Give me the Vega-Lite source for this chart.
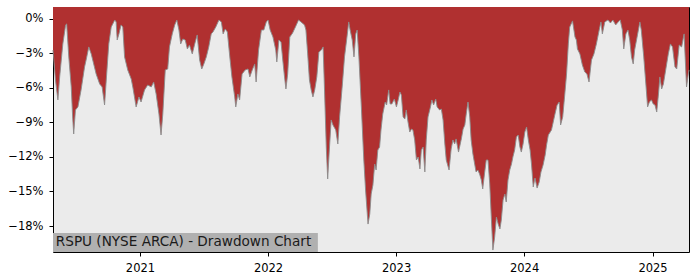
{
  "$schema": "https://vega.github.io/schema/vega-lite/v6.json",
  "width": 636,
  "height": 245,
  "autosize": {"type": "none"},
  "padding": {"left": 53, "top": 7, "right": 11, "bottom": 28},
  "background": "#ffffff",
  "config": {
    "view": {"stroke": "#000000", "strokeWidth": 1, "fill": "#ebebeb"},
    "font": "DejaVu Sans",
    "axis": {
      "domain": false,
      "grid": false,
      "labelFont": "DejaVu Sans",
      "labelFontSize": 11.5,
      "labelColor": "#000000",
      "tickColor": "#000000",
      "tickSize": 4,
      "labelPadding": 6,
      "title": null
    }
  },
  "datasets": {
    "dd": [
      {"date": "2020-04-28", "dd": -0.0270},
      {"date": "2020-05-05", "dd": -0.0530},
      {"date": "2020-05-12", "dd": -0.0704},
      {"date": "2020-05-17", "dd": -0.0504},
      {"date": "2020-05-26", "dd": -0.0217},
      {"date": "2020-06-03", "dd": -0.0052},
      {"date": "2020-06-06", "dd": -0.0043},
      {"date": "2020-06-12", "dd": -0.0330},
      {"date": "2020-06-19", "dd": -0.0591},
      {"date": "2020-06-23", "dd": -0.0852},
      {"date": "2020-06-26", "dd": -0.1000},
      {"date": "2020-07-01", "dd": -0.0791},
      {"date": "2020-07-08", "dd": -0.0765},
      {"date": "2020-07-17", "dd": -0.0617},
      {"date": "2020-07-27", "dd": -0.0417},
      {"date": "2020-08-01", "dd": -0.0348},
      {"date": "2020-08-08", "dd": -0.0243},
      {"date": "2020-08-15", "dd": -0.0304},
      {"date": "2020-08-22", "dd": -0.0391},
      {"date": "2020-08-29", "dd": -0.0478},
      {"date": "2020-09-08", "dd": -0.0565},
      {"date": "2020-09-15", "dd": -0.0591},
      {"date": "2020-09-22", "dd": -0.0748},
      {"date": "2020-09-28", "dd": -0.0478},
      {"date": "2020-10-04", "dd": -0.0217},
      {"date": "2020-10-11", "dd": -0.0070},
      {"date": "2020-10-21", "dd": -0.0009},
      {"date": "2020-10-25", "dd": -0.0026},
      {"date": "2020-10-28", "dd": -0.0183},
      {"date": "2020-11-02", "dd": -0.0130},
      {"date": "2020-11-08", "dd": -0.0052},
      {"date": "2020-11-13", "dd": -0.0070},
      {"date": "2020-11-18", "dd": -0.0330},
      {"date": "2020-11-27", "dd": -0.0443},
      {"date": "2020-12-07", "dd": -0.0522},
      {"date": "2020-12-12", "dd": -0.0600},
      {"date": "2020-12-21", "dd": -0.0765},
      {"date": "2020-12-29", "dd": -0.0678},
      {"date": "2021-01-04", "dd": -0.0722},
      {"date": "2021-01-14", "dd": -0.0617},
      {"date": "2021-01-23", "dd": -0.0574},
      {"date": "2021-02-02", "dd": -0.0591},
      {"date": "2021-02-09", "dd": -0.0548},
      {"date": "2021-02-16", "dd": -0.0652},
      {"date": "2021-02-24", "dd": -0.0826},
      {"date": "2021-03-02", "dd": -0.1009},
      {"date": "2021-03-07", "dd": -0.0826},
      {"date": "2021-03-14", "dd": -0.0443},
      {"date": "2021-03-21", "dd": -0.0435},
      {"date": "2021-03-26", "dd": -0.0243},
      {"date": "2021-04-03", "dd": -0.0130},
      {"date": "2021-04-10", "dd": -0.0052},
      {"date": "2021-04-16", "dd": -0.0009},
      {"date": "2021-04-22", "dd": -0.0096},
      {"date": "2021-04-27", "dd": -0.0217},
      {"date": "2021-05-03", "dd": -0.0174},
      {"date": "2021-05-10", "dd": -0.0183},
      {"date": "2021-05-16", "dd": -0.0261},
      {"date": "2021-05-22", "dd": -0.0226},
      {"date": "2021-05-30", "dd": -0.0304},
      {"date": "2021-06-06", "dd": -0.0217},
      {"date": "2021-06-13", "dd": -0.0139},
      {"date": "2021-06-20", "dd": -0.0357},
      {"date": "2021-06-26", "dd": -0.0435},
      {"date": "2021-07-02", "dd": -0.0391},
      {"date": "2021-07-09", "dd": -0.0330},
      {"date": "2021-07-16", "dd": -0.0243},
      {"date": "2021-07-23", "dd": -0.0130},
      {"date": "2021-07-28", "dd": -0.0113},
      {"date": "2021-08-05", "dd": -0.0070},
      {"date": "2021-08-14", "dd": -0.0009},
      {"date": "2021-08-21", "dd": -0.0026},
      {"date": "2021-08-26", "dd": -0.0130},
      {"date": "2021-09-01", "dd": -0.0087},
      {"date": "2021-09-07", "dd": -0.0113},
      {"date": "2021-09-14", "dd": -0.0330},
      {"date": "2021-09-20", "dd": -0.0504},
      {"date": "2021-09-28", "dd": -0.0678},
      {"date": "2021-10-01", "dd": -0.0765},
      {"date": "2021-10-07", "dd": -0.0652},
      {"date": "2021-10-12", "dd": -0.0704},
      {"date": "2021-10-19", "dd": -0.0478},
      {"date": "2021-10-28", "dd": -0.0443},
      {"date": "2021-11-05", "dd": -0.0435},
      {"date": "2021-11-10", "dd": -0.0504},
      {"date": "2021-11-17", "dd": -0.0443},
      {"date": "2021-11-24", "dd": -0.0391},
      {"date": "2021-11-28", "dd": -0.0548},
      {"date": "2021-12-05", "dd": -0.0270},
      {"date": "2021-12-13", "dd": -0.0096},
      {"date": "2021-12-20", "dd": -0.0096},
      {"date": "2021-12-27", "dd": -0.0026},
      {"date": "2022-01-01", "dd": -0.0009},
      {"date": "2022-01-07", "dd": -0.0096},
      {"date": "2022-01-15", "dd": -0.0157},
      {"date": "2022-01-23", "dd": -0.0270},
      {"date": "2022-01-26", "dd": -0.0374},
      {"date": "2022-02-01", "dd": -0.0183},
      {"date": "2022-02-07", "dd": -0.0200},
      {"date": "2022-02-12", "dd": -0.0357},
      {"date": "2022-02-17", "dd": -0.0504},
      {"date": "2022-02-21", "dd": -0.0609},
      {"date": "2022-02-26", "dd": -0.0478},
      {"date": "2022-03-04", "dd": -0.0157},
      {"date": "2022-03-12", "dd": -0.0122},
      {"date": "2022-03-20", "dd": -0.0070},
      {"date": "2022-03-29", "dd": -0.0009},
      {"date": "2022-04-05", "dd": -0.0026},
      {"date": "2022-04-15", "dd": -0.0052},
      {"date": "2022-04-19", "dd": -0.0096},
      {"date": "2022-04-24", "dd": -0.0304},
      {"date": "2022-04-29", "dd": -0.0530},
      {"date": "2022-05-04", "dd": -0.0617},
      {"date": "2022-05-09", "dd": -0.0678},
      {"date": "2022-05-14", "dd": -0.0617},
      {"date": "2022-05-20", "dd": -0.0504},
      {"date": "2022-05-26", "dd": -0.0287},
      {"date": "2022-06-02", "dd": -0.0270},
      {"date": "2022-06-07", "dd": -0.0243},
      {"date": "2022-06-11", "dd": -0.0617},
      {"date": "2022-06-16", "dd": -0.1113},
      {"date": "2022-06-20", "dd": -0.1391},
      {"date": "2022-06-24", "dd": -0.1174},
      {"date": "2022-06-30", "dd": -0.0878},
      {"date": "2022-07-05", "dd": -0.0922},
      {"date": "2022-07-13", "dd": -0.0965},
      {"date": "2022-07-19", "dd": -0.1087},
      {"date": "2022-07-24", "dd": -0.0852},
      {"date": "2022-08-01", "dd": -0.0565},
      {"date": "2022-08-07", "dd": -0.0330},
      {"date": "2022-08-14", "dd": -0.0157},
      {"date": "2022-08-19", "dd": -0.0026},
      {"date": "2022-08-23", "dd": -0.0096},
      {"date": "2022-08-29", "dd": -0.0183},
      {"date": "2022-09-03", "dd": -0.0330},
      {"date": "2022-09-08", "dd": -0.0130},
      {"date": "2022-09-12", "dd": -0.0096},
      {"date": "2022-09-17", "dd": -0.0330},
      {"date": "2022-09-24", "dd": -0.0765},
      {"date": "2022-10-01", "dd": -0.1226},
      {"date": "2022-10-06", "dd": -0.1487},
      {"date": "2022-10-13", "dd": -0.1783},
      {"date": "2022-10-18", "dd": -0.1696},
      {"date": "2022-10-22", "dd": -0.1522},
      {"date": "2022-10-27", "dd": -0.1443},
      {"date": "2022-11-01", "dd": -0.1261},
      {"date": "2022-11-05", "dd": -0.1313},
      {"date": "2022-11-10", "dd": -0.1139},
      {"date": "2022-11-15", "dd": -0.1113},
      {"date": "2022-11-19", "dd": -0.0965},
      {"date": "2022-11-24", "dd": -0.0826},
      {"date": "2022-12-01", "dd": -0.0722},
      {"date": "2022-12-05", "dd": -0.0748},
      {"date": "2022-12-11", "dd": -0.0617},
      {"date": "2022-12-15", "dd": -0.0739},
      {"date": "2022-12-20", "dd": -0.0739},
      {"date": "2022-12-27", "dd": -0.0696},
      {"date": "2023-01-02", "dd": -0.0765},
      {"date": "2023-01-07", "dd": -0.0704},
      {"date": "2023-01-12", "dd": -0.0635},
      {"date": "2023-01-16", "dd": -0.0661},
      {"date": "2023-01-21", "dd": -0.0852},
      {"date": "2023-01-26", "dd": -0.0870},
      {"date": "2023-01-30", "dd": -0.0791},
      {"date": "2023-02-04", "dd": -0.0896},
      {"date": "2023-02-09", "dd": -0.0983},
      {"date": "2023-02-14", "dd": -0.0957},
      {"date": "2023-02-18", "dd": -0.0965},
      {"date": "2023-02-23", "dd": -0.1052},
      {"date": "2023-02-28", "dd": -0.1226},
      {"date": "2023-03-05", "dd": -0.1200},
      {"date": "2023-03-10", "dd": -0.1304},
      {"date": "2023-03-14", "dd": -0.1139},
      {"date": "2023-03-19", "dd": -0.1113},
      {"date": "2023-03-24", "dd": -0.1330},
      {"date": "2023-03-28", "dd": -0.1052},
      {"date": "2023-04-02", "dd": -0.0852},
      {"date": "2023-04-09", "dd": -0.0765},
      {"date": "2023-04-13", "dd": -0.0704},
      {"date": "2023-04-18", "dd": -0.0748},
      {"date": "2023-04-24", "dd": -0.0696},
      {"date": "2023-04-28", "dd": -0.0765},
      {"date": "2023-05-05", "dd": -0.0791},
      {"date": "2023-05-10", "dd": -0.0783},
      {"date": "2023-05-15", "dd": -0.0878},
      {"date": "2023-05-20", "dd": -0.1087},
      {"date": "2023-05-24", "dd": -0.1226},
      {"date": "2023-06-01", "dd": -0.1313},
      {"date": "2023-06-07", "dd": -0.1130},
      {"date": "2023-06-12", "dd": -0.1052},
      {"date": "2023-06-17", "dd": -0.1087},
      {"date": "2023-06-21", "dd": -0.1043},
      {"date": "2023-06-28", "dd": -0.1157},
      {"date": "2023-07-06", "dd": -0.1043},
      {"date": "2023-07-11", "dd": -0.0957},
      {"date": "2023-07-16", "dd": -0.0922},
      {"date": "2023-07-20", "dd": -0.0826},
      {"date": "2023-07-25", "dd": -0.0722},
      {"date": "2023-07-30", "dd": -0.0852},
      {"date": "2023-08-03", "dd": -0.1052},
      {"date": "2023-08-08", "dd": -0.1174},
      {"date": "2023-08-13", "dd": -0.1261},
      {"date": "2023-08-17", "dd": -0.1330},
      {"date": "2023-08-22", "dd": -0.1313},
      {"date": "2023-08-27", "dd": -0.1348},
      {"date": "2023-09-01", "dd": -0.1400},
      {"date": "2023-09-05", "dd": -0.1478},
      {"date": "2023-09-10", "dd": -0.1348},
      {"date": "2023-09-15", "dd": -0.1226},
      {"date": "2023-09-20", "dd": -0.1226},
      {"date": "2023-09-25", "dd": -0.1435},
      {"date": "2023-09-29", "dd": -0.1696},
      {"date": "2023-10-04", "dd": -0.2009},
      {"date": "2023-10-09", "dd": -0.1896},
      {"date": "2023-10-14", "dd": -0.1722},
      {"date": "2023-10-19", "dd": -0.1783},
      {"date": "2023-10-24", "dd": -0.1826},
      {"date": "2023-10-28", "dd": -0.1748},
      {"date": "2023-11-02", "dd": -0.1574},
      {"date": "2023-11-07", "dd": -0.1522},
      {"date": "2023-11-11", "dd": -0.1591},
      {"date": "2023-11-16", "dd": -0.1400},
      {"date": "2023-11-21", "dd": -0.1313},
      {"date": "2023-11-26", "dd": -0.1261},
      {"date": "2023-11-30", "dd": -0.1200},
      {"date": "2023-12-05", "dd": -0.1139},
      {"date": "2023-12-10", "dd": -0.1026},
      {"date": "2023-12-15", "dd": -0.1009},
      {"date": "2023-12-20", "dd": -0.1113},
      {"date": "2023-12-24", "dd": -0.1157},
      {"date": "2023-12-29", "dd": -0.1087},
      {"date": "2024-01-03", "dd": -0.0983},
      {"date": "2024-01-08", "dd": -0.0939},
      {"date": "2024-01-13", "dd": -0.1052},
      {"date": "2024-01-18", "dd": -0.1139},
      {"date": "2024-01-22", "dd": -0.1261},
      {"date": "2024-01-27", "dd": -0.1461},
      {"date": "2024-02-01", "dd": -0.1383},
      {"date": "2024-02-07", "dd": -0.1470},
      {"date": "2024-02-13", "dd": -0.1417},
      {"date": "2024-02-18", "dd": -0.1330},
      {"date": "2024-02-24", "dd": -0.1270},
      {"date": "2024-03-01", "dd": -0.1183},
      {"date": "2024-03-05", "dd": -0.1096},
      {"date": "2024-03-10", "dd": -0.1009},
      {"date": "2024-03-19", "dd": -0.0965},
      {"date": "2024-03-29", "dd": -0.0826},
      {"date": "2024-04-04", "dd": -0.0748},
      {"date": "2024-04-10", "dd": -0.0722},
      {"date": "2024-04-14", "dd": -0.0922},
      {"date": "2024-04-20", "dd": -0.0852},
      {"date": "2024-04-26", "dd": -0.0652},
      {"date": "2024-05-01", "dd": -0.0478},
      {"date": "2024-05-06", "dd": -0.0217},
      {"date": "2024-05-10", "dd": -0.0070},
      {"date": "2024-05-18", "dd": -0.0017},
      {"date": "2024-05-25", "dd": -0.0157},
      {"date": "2024-05-29", "dd": -0.0183},
      {"date": "2024-06-01", "dd": -0.0261},
      {"date": "2024-06-08", "dd": -0.0304},
      {"date": "2024-06-15", "dd": -0.0400},
      {"date": "2024-06-22", "dd": -0.0461},
      {"date": "2024-06-28", "dd": -0.0478},
      {"date": "2024-07-04", "dd": -0.0548},
      {"date": "2024-07-11", "dd": -0.0357},
      {"date": "2024-07-18", "dd": -0.0304},
      {"date": "2024-07-25", "dd": -0.0217},
      {"date": "2024-08-02", "dd": -0.0096},
      {"date": "2024-08-07", "dd": -0.0026},
      {"date": "2024-08-11", "dd": -0.0130},
      {"date": "2024-08-18", "dd": -0.0026},
      {"date": "2024-08-27", "dd": -0.0009},
      {"date": "2024-09-03", "dd": -0.0035},
      {"date": "2024-09-10", "dd": -0.0009},
      {"date": "2024-09-18", "dd": -0.0052},
      {"date": "2024-09-25", "dd": -0.0026},
      {"date": "2024-10-01", "dd": -0.0009},
      {"date": "2024-10-07", "dd": -0.0096},
      {"date": "2024-10-11", "dd": -0.0261},
      {"date": "2024-10-17", "dd": -0.0130},
      {"date": "2024-10-23", "dd": -0.0096},
      {"date": "2024-10-28", "dd": -0.0183},
      {"date": "2024-11-02", "dd": -0.0330},
      {"date": "2024-11-07", "dd": -0.0391},
      {"date": "2024-11-11", "dd": -0.0270},
      {"date": "2024-11-18", "dd": -0.0157},
      {"date": "2024-11-26", "dd": -0.0026},
      {"date": "2024-11-30", "dd": -0.0096},
      {"date": "2024-12-07", "dd": -0.0330},
      {"date": "2024-12-13", "dd": -0.0565},
      {"date": "2024-12-18", "dd": -0.0765},
      {"date": "2024-12-23", "dd": -0.0722},
      {"date": "2024-12-29", "dd": -0.0704},
      {"date": "2025-01-03", "dd": -0.0739},
      {"date": "2025-01-08", "dd": -0.0748},
      {"date": "2025-01-13", "dd": -0.0809},
      {"date": "2025-01-18", "dd": -0.0652},
      {"date": "2025-01-22", "dd": -0.0504},
      {"date": "2025-01-27", "dd": -0.0609},
      {"date": "2025-02-01", "dd": -0.0565},
      {"date": "2025-02-08", "dd": -0.0435},
      {"date": "2025-02-15", "dd": -0.0304},
      {"date": "2025-02-21", "dd": -0.0217},
      {"date": "2025-02-27", "dd": -0.0243},
      {"date": "2025-03-06", "dd": -0.0417},
      {"date": "2025-03-11", "dd": -0.0435},
      {"date": "2025-03-18", "dd": -0.0226},
      {"date": "2025-03-25", "dd": -0.0243},
      {"date": "2025-04-01", "dd": -0.0130},
      {"date": "2025-04-04", "dd": -0.0330},
      {"date": "2025-04-08", "dd": -0.0591},
      {"date": "2025-04-13", "dd": -0.0478},
      {"date": "2025-04-15", "dd": -0.0443}
    ],
    "label": [
      {"start": "2020-04-28", "end": "2022-05-23", "textx": "2020-05-06", "lo": -0.2026, "hi": -0.1861, "mid": -0.1937, "text": "RSPU (NYSE ARCA) - Drawdown Chart"}
    ]
  },
  "layer": [
    {
      "data": {"name": "dd"},
      "mark": {"type": "area", "color": "#b03030", "interpolate": "linear"},
      "encoding": {
        "x": {
          "field": "date",
          "type": "temporal",
          "scale": {"domain": ["2020-04-28", "2025-04-15"], "nice": false},
          "axis": {"format": "%Y", "tickCount": {"interval": "year", "step": 1}, "labelPadding": 6.5}
        },
        "y": {
          "field": "dd",
          "type": "quantitative",
          "scale": {"domain": [-0.2026, 0.0104], "nice": false, "zero": false},
          "axis": {"values": [0, -0.03, -0.06, -0.09, -0.12, -0.15, -0.18], "format": ".0%"}
        },
        "y2": {"datum": 0.0104}
      }
    },
    {
      "data": {"name": "dd"},
      "mark": {"type": "line", "color": "#8c8c8c", "strokeWidth": 1, "opacity": 0.9},
      "encoding": {
        "x": {"field": "date", "type": "temporal"},
        "y": {"field": "dd", "type": "quantitative"}
      }
    },
    {
      "data": {"name": "label"},
      "mark": {"type": "rect", "color": "#b0b0b0"},
      "encoding": {
        "x": {"field": "start", "type": "temporal"},
        "x2": {"field": "end"},
        "y": {"field": "lo", "type": "quantitative"},
        "y2": {"field": "hi"}
      }
    },
    {
      "data": {"name": "label"},
      "mark": {"type": "text", "align": "left", "baseline": "middle", "font": "DejaVu Sans", "fontSize": 13.6, "color": "#1a1a1a"},
      "encoding": {
        "x": {"field": "textx", "type": "temporal"},
        "y": {"field": "mid", "type": "quantitative"},
        "text": {"field": "text"}
      }
    }
  ]
}
